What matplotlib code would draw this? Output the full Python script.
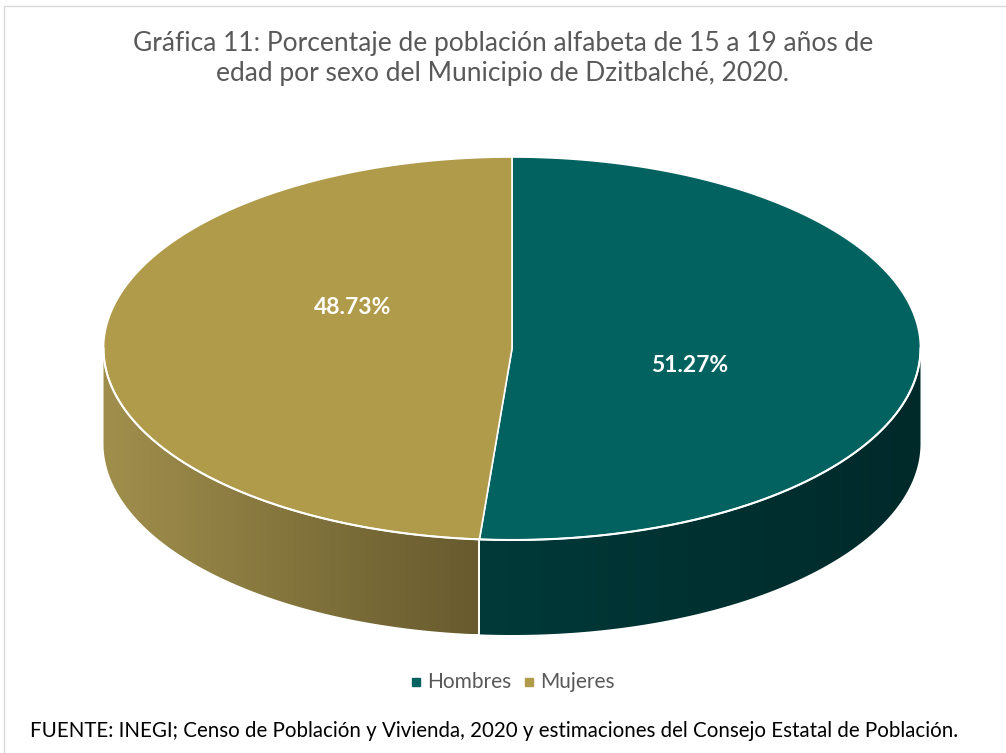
import numpy as np
import matplotlib.pyplot as plt
from matplotlib.patches import Polygon, Rectangle
from matplotlib.colors import to_rgb

plt.rcParams['font.family'] = ['Lato', 'DejaVu Sans']

# data
categories = ['Hombres', 'Mujeres']
values = [51.27, 48.73]
labels = ['51.27%', '48.73%']
top_colors = ['#02625F', '#B09B4B']
side_light = ['#003A39', '#A08F4C']
side_dark = ['#00292A', '#675A2E']

title = ('Gráfica 11: Porcentaje de población alfabeta de 15 a 19 años de\n'
         'edad por sexo del Municipio de Dzitbalché, 2020.')
source = ('FUENTE: INEGI; Censo de Población y Vivienda, 2020 y estimaciones '
          'del Consejo Estatal de Población.')

W, H = 1006, 753
fig = plt.figure(figsize=(W / 100, H / 100), dpi=100)
ax = fig.add_axes([0, 0, 1, 1])
ax.set_xlim(0, W)
ax.set_ylim(H, 0)
ax.axis('off')

# pie geometry (pixels)
cx, cy = 512, 348.5
a, b = 408.5, 191.5
depth = 95
# label offsets relative to centre, in units of the semi-axes
label_off = [(0.435, 0.09), (-0.39, -0.215)]


def ell(t):
    return cx + a * np.cos(t), cy - b * np.sin(t)


# angles: start at 12 o'clock, go clockwise
fracs = np.array(values) / np.sum(values)
bounds = np.pi / 2 - 2 * np.pi * np.concatenate([[0], np.cumsum(fracs)])

# side walls (front half: t in [-pi, 0])
for i in range(len(values)):
    t0, t1 = bounds[i + 1], bounds[i]
    segs = []
    for off in [0, -2 * np.pi, 2 * np.pi]:
        s0, s1 = max(t0 + off, -np.pi), min(t1 + off, 0)
        if s1 > s0:
            segs.append((s0, s1))
    for s0, s1 in segs:
        t = np.linspace(s0, s1, 200)
        x, y = ell(t)
        pts = np.vstack([np.column_stack([x, y]), np.column_stack([x[::-1], y[::-1] + depth])])
        poly = Polygon(pts, closed=True, facecolor='none', edgecolor='none')
        ax.add_patch(poly)
        c1, c2 = np.array(to_rgb(side_light[i])), np.array(to_rgb(side_dark[i]))
        g = np.linspace(0, 1, 256)[None, :, None]
        img = c1 + (c2 - c1) * g
        im = ax.imshow(img, extent=[x.min(), x.max(), y.max() + depth, y.min()],
                       aspect='auto', zorder=1)
        im.set_clip_path(poly)
        for tt in [s0, s1]:
            if -np.pi < tt < 0:
                xx, yy = ell(tt)
                ax.plot([xx, xx], [yy, yy + depth], color='white', lw=1.2, zorder=3)

# top faces
for i in range(len(values)):
    t = np.linspace(bounds[i + 1], bounds[i], 300)
    x, y = ell(t)
    pts = np.vstack([[cx, cy], np.column_stack([x, y])])
    ax.add_patch(Polygon(pts, closed=True, facecolor=top_colors[i],
                         edgecolor='white', lw=1.2, zorder=2))

# front rim highlight
t = np.linspace(-np.pi, 0, 400)
x, y = ell(t)
ax.plot(x, y, color='white', lw=1.5, zorder=3)

# labels
for i in range(len(values)):
    ox, oy = label_off[i]
    ax.text(cx + ox * a, cy + oy * b, labels[i], color='white', fontsize=16.5,
            fontweight='bold', ha='center', va='center', zorder=4)

ax.text(W / 2, 58, title, ha='center', va='center', fontsize=19,
        color='#595959', linespacing=1.25)

# legend
leg_y = 682
lx0 = 412
for i, cat in enumerate(categories):
    ax.add_patch(Rectangle((lx0, leg_y - 4), 8, 8, color=top_colors[i]))
    ax.text(lx0 + 15, leg_y, cat, fontsize=15, color='#595959', va='center')
    lx0 += 113

ax.text(30, 731, source, fontsize=14.8, color='black', va='center')

ax.add_patch(Rectangle((4.5, 5.5), W, H, fill=False, edgecolor='#D9D9D9', lw=1))

fig.savefig('out.png', dpi=100)
